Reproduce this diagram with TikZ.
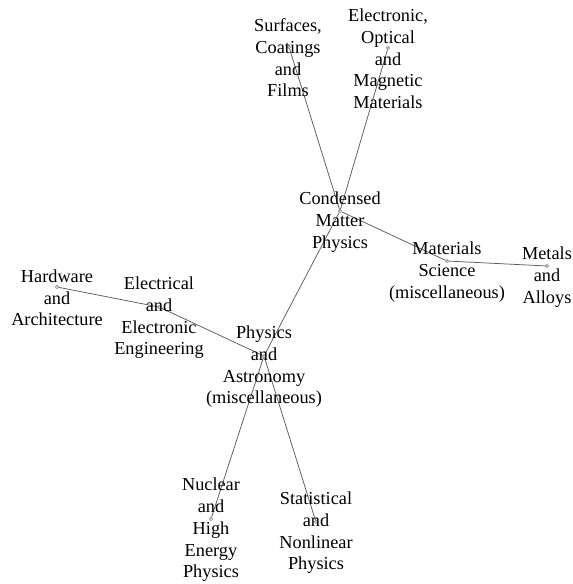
\documentclass[tikz,border=0pt]{standalone}
\usepackage{fontspec}
\setmainfont{Liberation Serif}
\begin{document}
\begin{tikzpicture}[x=1pt,y=-1pt,
  vertex/.style={circle,draw=edgegray,fill=white,inner sep=0pt,minimum size=3.2pt,line width=0.5pt},
  label text/.style={align=center,inner sep=0pt,text=black,
    font=\fontsize{18.3}{21.7}\selectfont},
  link/.style={draw=edgegray,line width=0.75pt}]
\definecolor{edgegray}{RGB}{90,90,90}
\useasboundingbox (0,0) rectangle (573,584);

% vertices
\node[vertex] (surf) at (289,47) {};
\node[vertex] (elec) at (388,48) {};
\node[vertex] (cond) at (340,211) {};
\node[vertex] (mat)  at (447,261) {};
\node[vertex] (met)  at (547,266) {};
\node[vertex] (hw)   at (57,287) {};
\node[vertex] (ee)   at (159,307) {};
\node[vertex] (phys) at (264,356) {};
\node[vertex] (nuc)  at (211,519) {};
\node[vertex] (stat) at (316,522) {};

% links
\draw[link] (cond) -- (surf);
\draw[link] (cond) -- (elec);
\draw[link] (cond) -- (mat);
\draw[link] (mat) -- (met);
\draw[link] (cond) -- (phys);
\draw[link] (phys) -- (ee);
\draw[link] (ee) -- (hw);
\draw[link] (phys) -- (nuc);
\draw[link] (phys) -- (stat);

% labels
\node[label text] (surfL) at (288,58) {Surfaces,\\Coatings\\and\\Films};
\node[label text] (elecL) at (388,59) {Electronic,\\Optical\\and\\Magnetic\\Materials};
\node[label text] (condL) at (340,222) {Condensed\\Matter\\Physics};
\node[label text] (matL)  at (447,272) {Materials\\Science\\(miscellaneous)};
\node[label text] (metL)  at (547,277) {Metals\\and\\Alloys};
\node[label text] (hwL)   at (57,298) {Hardware\\and\\Architecture};
\node[label text] (eeL)   at (159,318) {Electrical\\and\\Electronic\\Engineering};
\node[label text] (physL) at (264,367) {Physics\\and\\Astronomy\\(miscellaneous)};
\node[label text] (nucL)  at (211,530) {Nuclear\\and\\High\\Energy\\Physics};
\node[label text] (statL) at (316,533) {Statistical\\and\\Nonlinear\\Physics};
\end{tikzpicture}
\end{document}
